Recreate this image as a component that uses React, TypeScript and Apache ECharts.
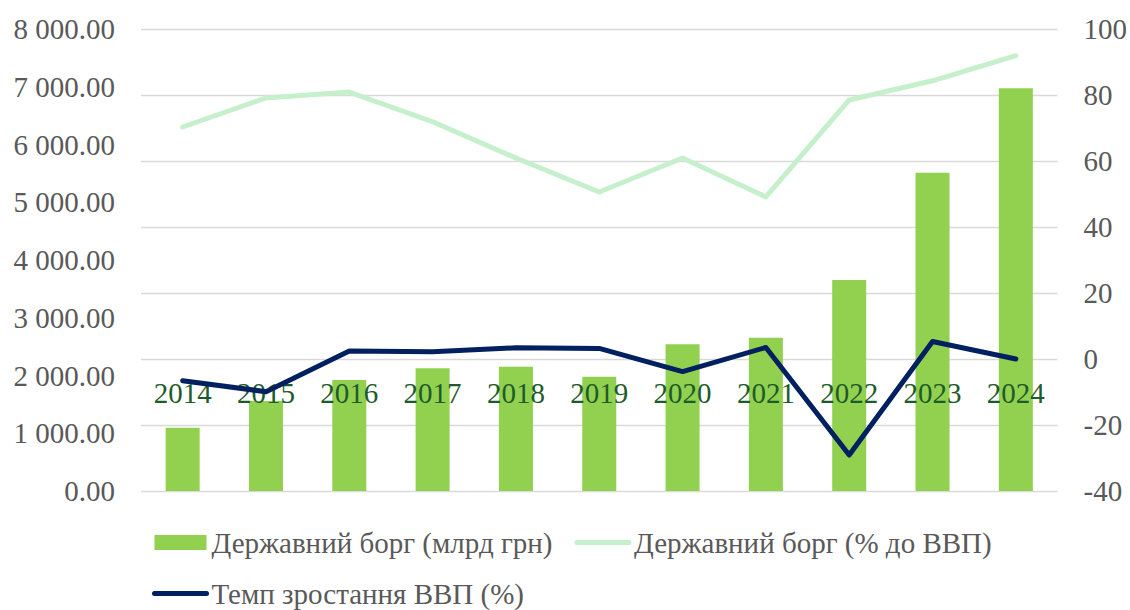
import React, { useEffect, useRef } from "react";
import * as echarts from "echarts";

const years = ["2014", "2015", "2016", "2017", "2018", "2019", "2020", "2021", "2022", "2023", "2024"];
const debtBn = [1096, 1558, 1922, 2125, 2153, 1980, 2540, 2655, 3654, 5512, 6973];
const debtPctGdp = [70.3, 79.1, 80.9, 71.9, 60.9, 50.6, 60.9, 49.1, 78.5, 84.3, 91.9];
const gdpGrowth = [-6.6, -9.9, 2.4, 2.2, 3.4, 3.2, -3.8, 3.5, -29.1, 5.3, 0];

const seriesNames = ["Державний борг (млрд грн)", "Державний борг (% до ВВП)", "Темп зростання ВВП (%)"];

const FONT = "'Liberation Serif', 'Times New Roman', serif";
const FS = 29;

function fmtLeft(v: number): string {
  const fixed = v.toFixed(2);
  const [intPart, dec] = fixed.split(".");
  const withSpaces = intPart.replace(/\B(?=(\d{3})+(?!\d))/g, " ");
  return withSpaces + "." + dec;
}

export default function App() {
  const ref = useRef<HTMLDivElement>(null);
  useEffect(() => {
    document.body.style.margin = "0";
    if (!ref.current) return;
    const chart = echarts.init(ref.current, null, { renderer: "svg" });
    chart.setOption({
      animation: false,
      backgroundColor: "#ffffff",
      grid: { left: 141, right: 71, top: 29, bottom: 119, containLabel: false },
      legend: {
        left: 147,
        top: 523,
        width: 900,
        itemWidth: 52,
        itemHeight: 15,
        itemGap: 22,
        textStyle: { fontFamily: FONT, fontSize: FS, color: "#595959" },
        data: [
          { name: seriesNames[0], icon: "rect" },
          {
            name: seriesNames[1],
            lineStyle: { width: 5, cap: "round" },
            itemStyle: { color: "rgba(0,0,0,0)", borderWidth: 0 },
          },
          {
            name: seriesNames[2],
            lineStyle: { width: 5, cap: "round" },
            itemStyle: { color: "rgba(0,0,0,0)", borderWidth: 0 },
          },
        ],
      },
      xAxis: {
        type: "category",
        data: years,
        z: 4,
        axisLine: { show: false },
        axisTick: { show: false },
        axisLabel: { fontFamily: FONT, fontSize: FS, color: "#1e5b2a", margin: -113 },
        splitLine: { show: false },
      },
      yAxis: [
        {
          type: "value",
          min: 0,
          max: 8000,
          interval: 1000,
          axisLine: { show: false },
          axisTick: { show: false },
          splitLine: { show: false },
          axisLabel: {
            fontFamily: FONT,
            fontSize: FS,
            color: "#595959",
            margin: 26,
            formatter: (v: number) => fmtLeft(v),
          },
        },
        {
          type: "value",
          min: -40,
          max: 100,
          interval: 20,
          position: "right",
          axisLine: { show: false },
          axisTick: { show: false },
          splitLine: { show: true, lineStyle: { color: "#d9d9d9", width: 1.3 } },
          axisLabel: { fontFamily: FONT, fontSize: FS, color: "#595959", margin: 26 },
        },
      ],
      series: [
        {
          name: seriesNames[0],
          type: "bar",
          yAxisIndex: 0,
          data: debtBn,
          barWidth: 34,
          itemStyle: { color: "#92d050" },
          z: 2,
        },
        {
          name: seriesNames[1],
          type: "line",
          yAxisIndex: 1,
          data: debtPctGdp,
          symbol: "none",
          lineStyle: { color: "#c6f0cb", width: 5, cap: "round", join: "round" },
          itemStyle: { color: "#c6f0cb" },
          z: 5,
        },
        {
          name: seriesNames[2],
          type: "line",
          yAxisIndex: 1,
          data: gdpGrowth,
          symbol: "none",
          lineStyle: { color: "#002060", width: 5, cap: "round", join: "round" },
          itemStyle: { color: "#002060" },
          z: 6,
        },
      ],
    });
    return () => chart.dispose();
  }, []);
  return <div ref={ref} style={{ width: 1130, height: 610 }} />;
}
